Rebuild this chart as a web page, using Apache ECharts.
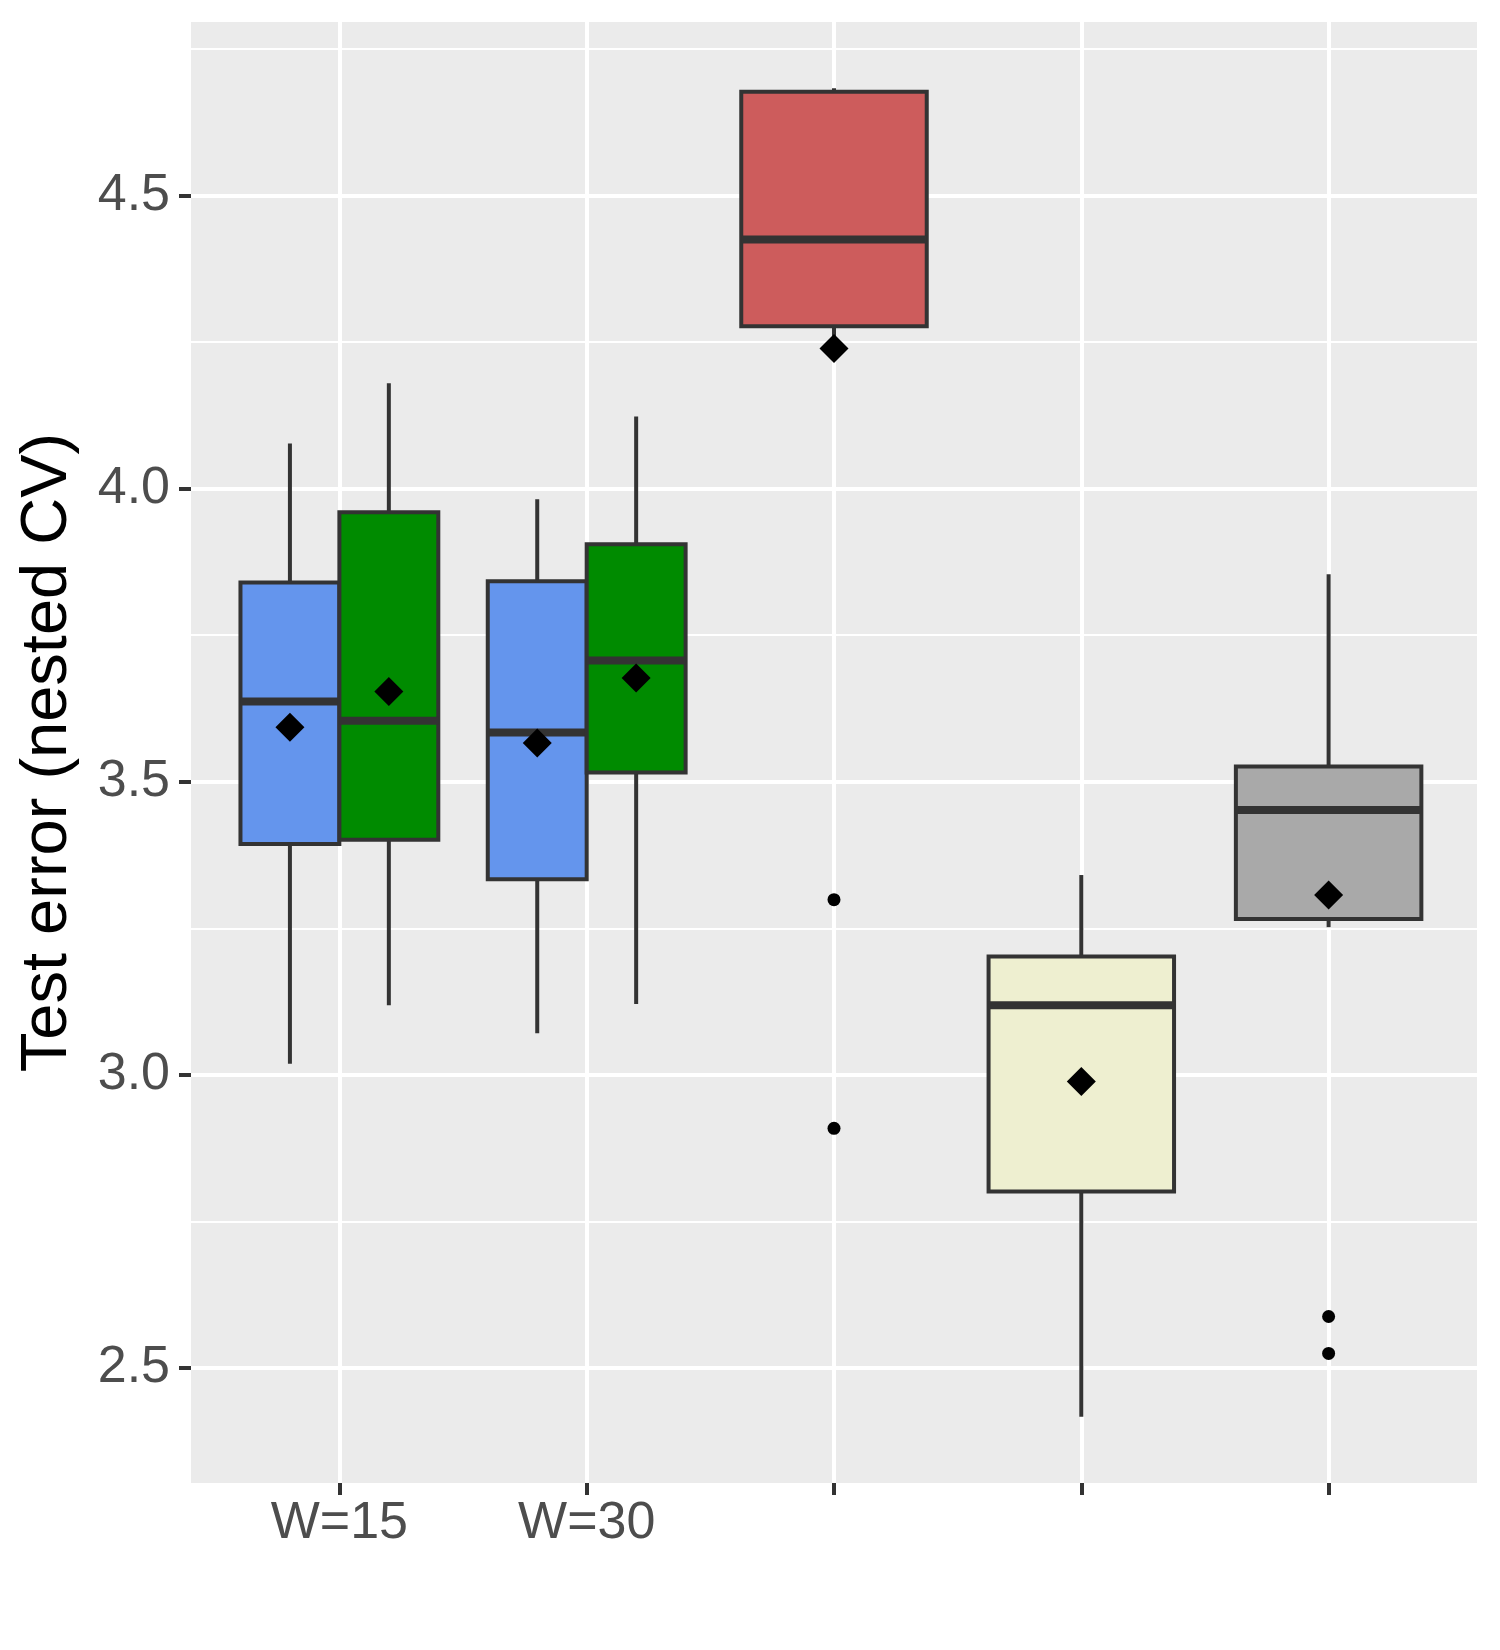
<!DOCTYPE html>
<html>
<head>
<meta charset="utf-8">
<script src="https://cdn.jsdelivr.net/npm/echarts@6/dist/echarts.min.js"></script>
<style>
  html, body { margin: 0; padding: 0; background: #fff; }
  #chart { width: 1500px; height: 1650px; }
</style>
</head>
<body>
<div id="chart"></div>
<script>
const categories = ['W=15', 'W=30', '', '', ''];
const yTicks = [2.5, 3.0, 3.5, 4.0, 4.5];
const yMinorTicks = [2.75, 3.25, 3.75, 4.25, 4.75];

// one entry per box, left to right
const boxCat    = [0, 0, 1, 1, 2, 3, 4];
const boxLow    = [3.019, 3.119, 3.071, 3.121, 4.255, 2.417, 3.252];
const boxQ1     = [3.394, 3.401, 3.334, 3.516, 4.277, 2.801, 3.266];
const boxMedian = [3.637, 3.604, 3.584, 3.707, 4.425, 3.119, 3.452];
const boxQ3     = [3.840, 3.960, 3.842, 3.905, 4.677, 3.202, 3.526];
const boxHigh   = [4.077, 4.180, 3.982, 4.123, 4.683, 3.341, 3.854];
const boxMean   = [3.593, 3.654, 3.566, 3.677, 4.239, 2.989, 3.307];

const outlierCat   = [2, 2, 4, 4];
const outlierValue = [3.299, 2.909, 2.588, 2.525];

const fills = ['#6495ED', '#008B00', '#6495ED', '#008B00', '#CD5C5C', '#EEEFD0', '#A9A9A9'];
const ink = '#333333';
const font = '"Liberation Sans", Arial, sans-serif';

// dodge boxes that share a category
const perCat = {};
boxCat.forEach(c => { perCat[c] = (perCat[c] || 0) + 1; });
const seen = {};
const boxPos = [], boxW = [];
boxCat.forEach(c => {
  const n = perCat[c];
  const k = seen[c] = (seen[c] || 0) + 1;
  if (n === 1) {
    boxPos.push(c); boxW.push(0.75);
  } else {
    const w = 0.8 / n;
    boxPos.push(c - 0.4 + w * (k - 0.5)); boxW.push(w);
  }
});

const boxData = boxCat.map((c, i) =>
  [boxPos[i], boxLow[i], boxQ1[i], boxMedian[i], boxQ3[i], boxHigh[i], boxW[i]]);
const meanData = boxCat.map((c, i) => [boxPos[i], boxMean[i]]);
const outlierData = outlierCat.map((c, i) => [c, outlierValue[i]]);

function renderBox(params, api) {
  const x = api.value(0), w = api.value(6);
  const yLow = api.coord([x, api.value(1)])[1];
  const yQ1 = api.coord([x, api.value(2)])[1];
  const yMed = api.coord([x, api.value(3)])[1];
  const yQ3 = api.coord([x, api.value(4)])[1];
  const yHigh = api.coord([x, api.value(5)])[1];
  const cx = api.coord([x, api.value(3)])[0];
  const left = api.coord([x - w / 2, api.value(3)])[0];
  const right = api.coord([x + w / 2, api.value(3)])[0];
  const line = { stroke: ink, lineWidth: 4 };
  return {
    type: 'group',
    children: [
      { type: 'line', shape: { x1: cx, y1: yHigh, x2: cx, y2: yQ3 }, style: line },
      { type: 'line', shape: { x1: cx, y1: yQ1, x2: cx, y2: yLow }, style: line },
      { type: 'rect', shape: { x: left, y: yQ3, width: right - left, height: yQ1 - yQ3 },
        style: { fill: fills[params.dataIndex], stroke: ink, lineWidth: 4 } },
      { type: 'line', shape: { x1: left, y1: yMed, x2: right, y2: yMed },
        style: { stroke: ink, lineWidth: 8 } }
    ]
  };
}

const chart = echarts.init(document.getElementById('chart'), null, { renderer: 'canvas' });

chart.setOption({
  animation: false,
  backgroundColor: '#ffffff',
  grid: {
    left: 191, right: 23, top: 22, bottom: 167,
    show: true, backgroundColor: '#EBEBEB', borderWidth: 0
  },
  xAxis: {
    type: 'value',
    min: -0.6, max: 4.6,
    axisLine: { show: false, onZero: false },
    axisTick: { show: true, length: 12, customValues: [0, 1, 2, 3, 4],
      lineStyle: { color: ink, width: 4 } },
    axisLabel: { customValues: [0, 1, 2, 3, 4], margin: 15,
      formatter: v => categories[Math.round(v)],
      color: '#4D4D4D', fontSize: 52, fontFamily: font },
    splitLine: { show: true, lineStyle: { color: '#ffffff', width: 4 } }
  },
  yAxis: [{
    type: 'value',
    min: 2.304, max: 4.796,
    name: 'Test error (nested CV)',
    nameLocation: 'middle',
    nameRotate: 90,
    nameGap: 110,
    nameTextStyle: { color: '#000000', fontSize: 65, fontFamily: font },
    axisLine: { show: false, onZero: false },
    axisTick: { show: true, length: 12, customValues: yTicks,
      lineStyle: { color: ink, width: 4 } },
    axisLabel: { customValues: yTicks, margin: 21,
      formatter: v => v.toFixed(1),
      color: '#4D4D4D', fontSize: 52, fontFamily: font },
    splitLine: { show: true, lineStyle: { color: '#ffffff', width: 4 } }
  }, {
    type: 'value',
    min: 2.304, max: 4.796,
    axisLine: { show: false, onZero: false },
    axisTick: { show: false, customValues: yMinorTicks },
    axisLabel: { show: false },
    splitLine: { show: true, lineStyle: { color: '#ffffff', width: 2 } }
  }],
  series: [{
    type: 'custom',
    renderItem: renderBox,
    encode: { x: 0, y: [1, 2, 3, 4, 5] },
    data: boxData,
    z: 3
  }, {
    type: 'scatter',
    symbol: 'diamond',
    symbolSize: 29,
    itemStyle: { color: '#000000', opacity: 1 },
    data: meanData,
    z: 4
  }, {
    type: 'scatter',
    symbol: 'circle',
    symbolSize: 13,
    itemStyle: { color: '#000000', opacity: 1 },
    data: outlierData,
    z: 4
  }]
});
</script>
</body>
</html>
